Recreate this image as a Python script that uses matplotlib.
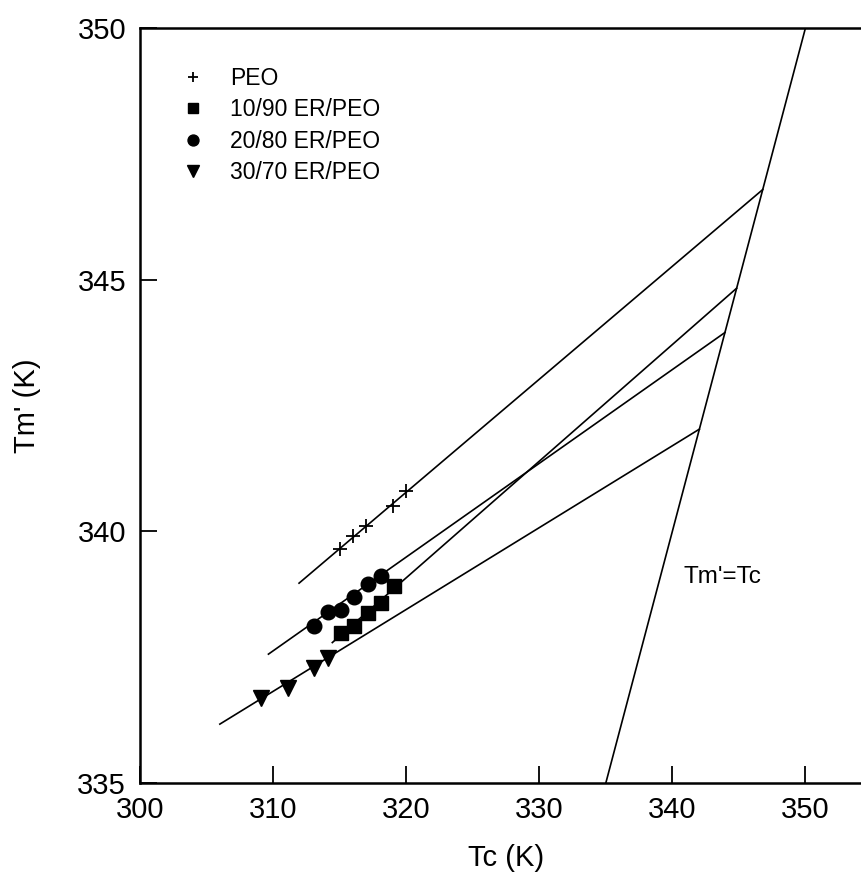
import matplotlib
matplotlib.use('Agg')
import matplotlib.pyplot as plt
import numpy as np

# Crystallization temperature Tc (K) and observed melting point Tm' (K)
peo_tc = [315, 316, 317, 319, 320]
peo_tm = [339.65, 339.9, 340.1, 340.5, 340.8]

er10_tc = [315.1, 316.1, 317.1, 318.1, 319.1]
er10_tm = [337.98, 338.11, 338.37, 338.58, 338.92]

er20_tc = [313.1, 314.1, 315.1, 316.1, 317.1, 318.1]
er20_tm = [338.12, 338.39, 338.43, 338.69, 338.96, 339.12]

er30_tc = [309.1, 311.1, 313.1, 314.1]
er30_tm = [336.68, 336.88, 337.28, 337.48]

# Hoffman-Weeks lines: start of each fit line and equilibrium melting point Tm0
fit_start_tc = [311.95, 314.45, 309.65, 306.0]
fit_start_tm = [338.97, 337.79, 337.56, 336.17]
tm0 = [346.79, 344.83, 343.95, 342.03]

# Tm' = Tc reference line
diag_range = [335, 350]

labels = ['PEO', '10/90 ER/PEO', '20/80 ER/PEO', '30/70 ER/PEO']

plt.rcParams['font.family'] = ['Liberation Sans', 'DejaVu Sans']

fig = plt.figure(figsize=(8.62, 8.76), dpi=100)
ax = fig.add_axes([140 / 862, 1 - 783 / 876, 732 / 862, 755 / 876])

# fit lines
for x0, y0, t0 in zip(fit_start_tc, fit_start_tm, tm0):
    ax.plot([x0, t0], [y0, t0], color='black', lw=1.2, zorder=2)
ax.plot(diag_range, diag_range, color='black', lw=1.2, zorder=2)

ax.plot(peo_tc, peo_tm, ls='none', marker='+', ms=10, mew=1.3, color='black', label=labels[0], zorder=3)
ax.plot(er10_tc, er10_tm, ls='none', marker='s', ms=9.5, color='black', label=labels[1], zorder=3)
ax.plot(er20_tc, er20_tm, ls='none', marker='o', ms=10.5, color='black', label=labels[2], zorder=3)
ax.plot(er30_tc, er30_tm, ls='none', marker='v', ms=11, color='black', label=labels[3], zorder=3)

ax.text(340.8, 339.1, "Tm'=Tc", fontsize=17.5, va='center', ha='left')

ax.set_xlim(300, 355)
ax.set_ylim(335, 350)
ax.set_xticks([300, 310, 320, 330, 340, 350])
ax.set_yticks([335, 340, 345, 350])
ax.tick_params(direction='in', length=12, width=1.3, labelsize=21)
ax.tick_params(axis='x', pad=9)
ax.tick_params(axis='y', pad=10)

ax.spines['right'].set_visible(False)
for s in ['left', 'top', 'bottom']:
    ax.spines[s].set_linewidth(1.8)

ax.set_xlabel('Tc (K)', fontsize=21, labelpad=15)
ax.set_ylabel("Tm' (K)", fontsize=21, labelpad=26)

ax.legend(loc='upper left', bbox_to_anchor=(180 / 862, 1 - 67 / 876), bbox_transform=fig.transFigure,
          frameon=False, fontsize=16.5, markerscale=0.75, handlelength=1.1, handletextpad=1.1,
          labelspacing=0.37, borderpad=0, borderaxespad=0)

fig.savefig('out.png', dpi=100)
